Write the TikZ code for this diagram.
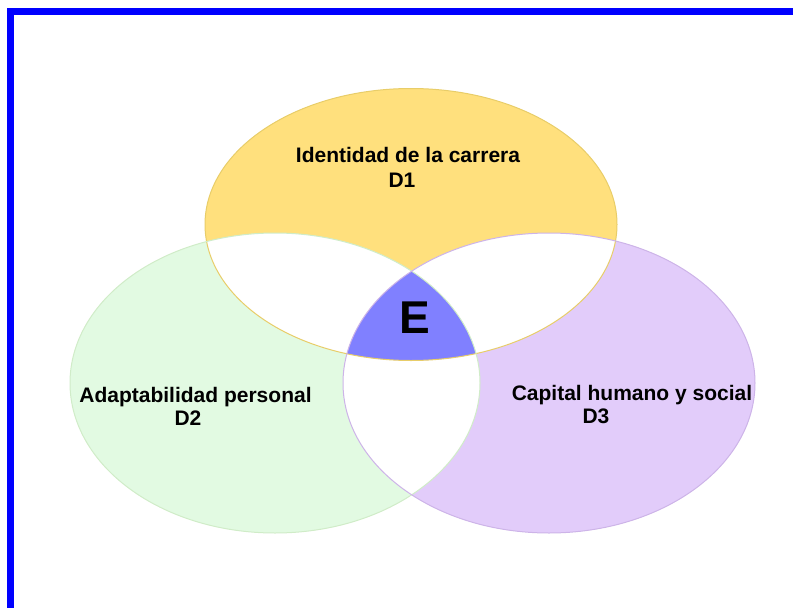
\documentclass[tikz,border=0pt]{standalone}
\usepackage{fontspec}
\setmainfont{Liberation Sans}
\usepackage{tikz}

\definecolor{carrera}{RGB}{255,224,125}
\definecolor{carreraline}{RGB}{232,205,105}
\definecolor{personal}{RGB}{226,250,226}
\definecolor{personalline}{RGB}{208,236,200}
\definecolor{social}{RGB}{226,204,250}
\definecolor{socialline}{RGB}{205,180,232}
\definecolor{nucleo}{RGB}{128,128,255}
\definecolor{marco}{RGB}{0,0,255}

\newcommand{\elipseuno}{(411,224.5) ellipse [x radius=206pt, y radius=136pt]}
\newcommand{\elipsedos}{(275,383) ellipse [x radius=205pt, y radius=150pt]}
\newcommand{\elipsetres}{(549,383) ellipse [x radius=206pt, y radius=150pt]}

\begin{document}
\begin{tikzpicture}[x=1pt,y=-1pt,
	etiqueta/.style={font=\fontsize{21}{25}\selectfont\bfseries, inner sep=0pt, anchor=base}]
				\useasboundingbox (0,0) rectangle (793,608);
				\clip (0,0) rectangle (793,608);
				\draw [marco, line width=7pt] (10.5,11.5) rectangle (830,650);
				\fill [carrera] \elipseuno;
				\fill [personal] \elipsedos;
				\fill [social] \elipsetres;
				\begin{scope}
					\clip \elipseuno;
					\fill [white] \elipsedos;
					\fill [white] \elipsetres;
				\end{scope}
				\begin{scope}
					\clip \elipsedos;
					\fill [white] \elipsetres;
				\end{scope}
				\begin{scope}
					\clip \elipseuno;
					\clip \elipsedos;
					\fill [nucleo] \elipsetres;
				\end{scope}
				\draw [carreraline, line width=1pt] \elipseuno;
				\draw [personalline, line width=1pt] \elipsedos;
				\draw [socialline, line width=1pt] \elipsetres;
				\node [etiqueta] (d1t) at (408,162) {Identidad de la carrera};
				\node [etiqueta] (d1) at (402,187) {D1};
				\node [etiqueta] (d2t) at (195.5,402) {Adaptabilidad personal};
				\node [etiqueta] (d2) at (188,425) {D2};
				\node [etiqueta] (d3t) at (632,400) {Capital humano y social};
				\node [etiqueta] (d3) at (596,423) {D3};
				\node [etiqueta, font=\fontsize{46}{50}\selectfont\bfseries] (e) at (414.5,333) {E};
			\end{tikzpicture}
\end{document}
